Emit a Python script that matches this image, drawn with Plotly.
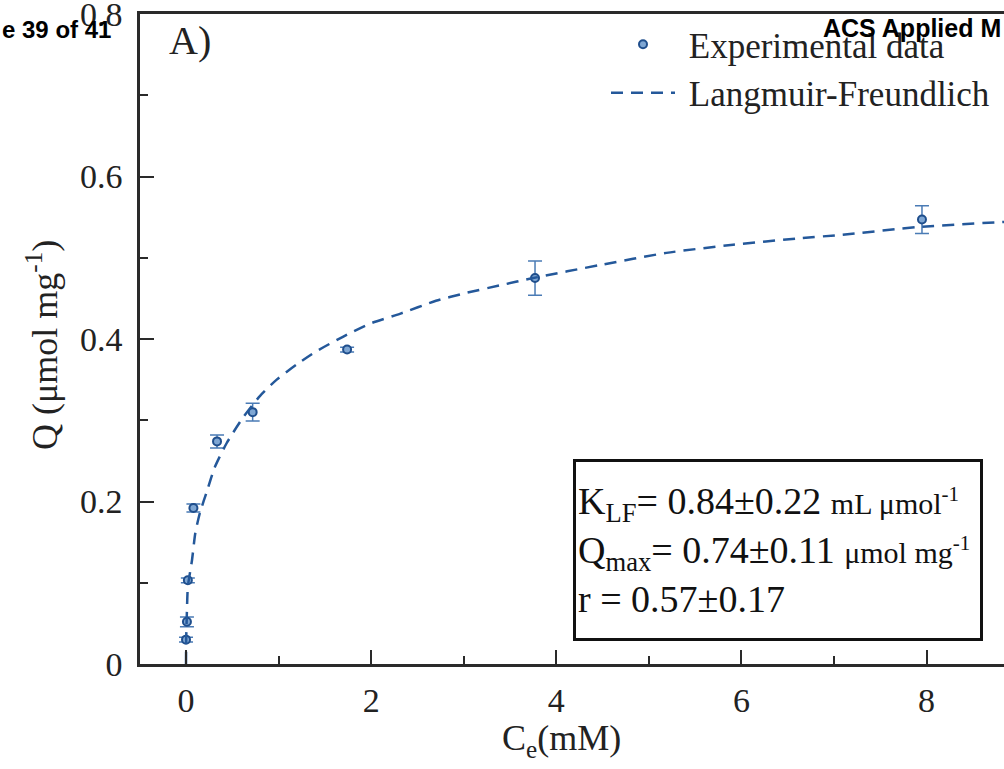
import plotly.graph_objects as go

ce_exp = [0.0, 0.01, 0.02, 0.08, 0.335, 0.72, 1.74, 3.77, 7.95]
q_exp = [0.030, 0.052, 0.103, 0.192, 0.274, 0.310, 0.387, 0.475, 0.547]
q_err = [0.003, 0.006, 0.003, 0.005, 0.008, 0.011, 0.003, 0.021, 0.017]

# Langmuir-Freundlich fitted curve
ce_fit = [0, 0.002, 0.01, 0.02, 0.065, 0.10, 0.15, 0.23, 0.31, 0.44, 0.62, 0.80,
          0.98, 1.20, 1.41, 1.70, 1.99, 2.31, 2.70, 3.00, 3.39, 3.75, 4.47, 5.19,
          5.91, 6.63, 7.06, 7.93, 8.82, 9.3]
q_fit = [0, 0.030, 0.066, 0.095, 0.128, 0.161, 0.186, 0.214, 0.242, 0.272, 0.304,
         0.330, 0.350, 0.369, 0.385, 0.403, 0.419, 0.431, 0.447, 0.456, 0.466,
         0.475, 0.491, 0.506, 0.516, 0.524, 0.528, 0.538, 0.544, 0.547]

x_ticks = [0, 2, 4, 6, 8]
y_ticks = [0, 0.2, 0.4, 0.6, 0.8]

SERIF = "Liberation Serif, Times New Roman, serif"
SANS = "Liberation Sans, Arial, sans-serif"
BLUE = "#24589a"
AXIS = "#2a2a2a"
NBSP = "\u00a0"

# plot-area geometry in pixels (used only to place free text)
L, T, W, H = 140, 14, 864, 650


def px_x(p):
    return (p - L) / W


def px_y(p):
    return (T + H - p) / H


fig = go.Figure()
fig.add_trace(go.Scatter(
    x=ce_exp, y=q_exp, mode="markers", name=NBSP + "Experimental data",
    marker=dict(symbol="circle", size=8, color="#7ea6d3",
                line=dict(color="#1f4e8c", width=2)),
    error_y=dict(type="data", array=q_err, visible=True, color="#4a7bb5",
                 thickness=1.5, width=7),
))
fig.add_trace(go.Scatter(
    x=ce_fit, y=q_fit, mode="lines", name=NBSP + "Langmuir-Freundlich",
    line=dict(color=BLUE, width=2.5, dash="12px,8px", shape="spline", smoothing=0.6),
))

fig.update_layout(
    width=1004, height=769,
    margin=dict(l=L, r=1004 - L - W, t=T, b=769 - T - H, autoexpand=False),
    paper_bgcolor="white", plot_bgcolor="white",
    font=dict(family=SERIF, color="#222"),
    showlegend=True,
    legend=dict(x=px_x(606), y=px_y(15), xanchor="left", yanchor="top",
                bgcolor="rgba(0,0,0,0)", font=dict(family=SERIF, size=35, color="#222"),
                itemwidth=64, tracegroupgap=0),
    xaxis=dict(range=[-0.497, 8.836], tickmode="array", tickvals=x_ticks,
               ticktext=[str(v) for v in x_ticks], automargin=False,
               ticks="inside", ticklen=14, tickwidth=2, tickcolor=AXIS,
               minor=dict(dtick=1, tick0=0, ticks="inside", ticklen=8, tickwidth=2,
                          tickcolor=AXIS, showgrid=False),
               showline=True, linecolor=AXIS, linewidth=2.5, mirror=True,
               showgrid=False, zeroline=False, ticklabelstandoff=4,
               ticklabeloverflow="allow",
               tickfont=dict(family=SERIF, size=34, color="#222")),
    yaxis=dict(range=[0, 0.8], tickmode="array", tickvals=y_ticks,
               ticktext=["0", "0.2", "0.4", "0.6", "0.8"], automargin=False,
               ticks="inside", ticklen=14, tickwidth=2, tickcolor=AXIS,
               minor=dict(dtick=0.1, tick0=0, ticks="inside", ticklen=8, tickwidth=2,
                          tickcolor=AXIS, showgrid=False),
               showline=True, linecolor=AXIS, linewidth=2.5, mirror=False,
               showgrid=False, zeroline=False, ticklabelstandoff=8,
               ticklabeloverflow="allow",
               tickfont=dict(family=SERIF, size=34, color="#222")),
)

annotations = [
    dict(text="A)", x=px_x(190), y=px_y(40), xref="paper", yref="paper",
         xanchor="center", yanchor="middle", showarrow=False,
         font=dict(family=SERIF, size=40, color="#222")),
    dict(text="Q (μmol mg<sup>-1</sup>)", x=px_x(43), y=px_y(345), xref="paper", yref="paper",
         xanchor="center", yanchor="middle", textangle=-90, showarrow=False,
         font=dict(family=SERIF, size=36, color="#222")),
    dict(text="C<sub>e</sub>(mM)", x=px_x(561), y=px_y(740), xref="paper", yref="paper",
         xanchor="center", yanchor="middle", showarrow=False,
         font=dict(family=SERIF, size=36, color="#222")),
    dict(text=("K<sub>LF</sub>= 0.84±0.22 <span style='font-size:30px'>mL μmol<sup>-1</sup></span><br>"
               "Q<sub>max</sub>= 0.74±0.11 <span style='font-size:30px'>μmol mg<sup>-1</sup></span><br>"
               "r = 0.57±0.17"),
         x=px_x(778), y=px_y(550), xref="paper", yref="paper",
         xanchor="center", yanchor="middle",
         showarrow=False, align="left", valign="middle", width=400, height=172,
         bordercolor="#111", borderwidth=3, borderpad=2, bgcolor="white",
         font=dict(family=SERIF, size=38, color="#111")),
    dict(text="<b>e 39 of 41</b>", x=px_x(0), y=px_y(29), xref="paper", yref="paper",
         xanchor="left", yanchor="middle", showarrow=False,
         font=dict(family=SANS, size=24, color="black")),
    dict(text="<b>ACS Applied M</b>", x=px_x(821), y=px_y(28), xref="paper", yref="paper",
         xanchor="left", yanchor="middle", showarrow=False,
         font=dict(family=SANS, size=25, color="black")),
]
fig.update_layout(annotations=annotations)

fig.write_html("out.html", config={"displayModeBar": False},
               post_script="document.body.style.margin='0';")
